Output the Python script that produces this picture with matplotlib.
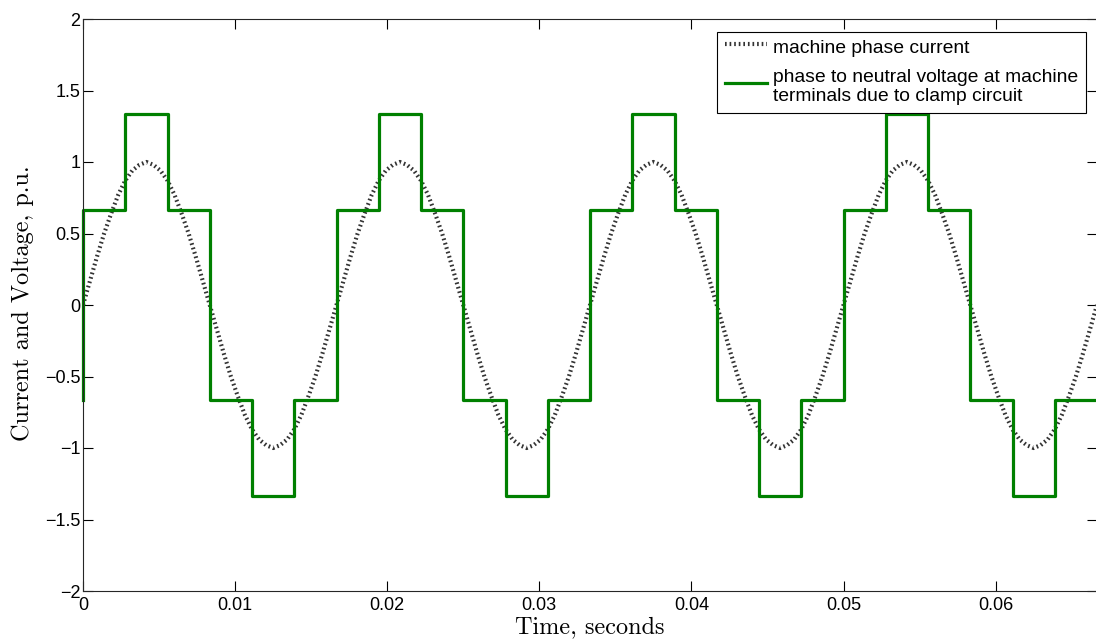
import numpy as np
import matplotlib
matplotlib.use("Agg")
import matplotlib.pyplot as plt

# one cycle of the machine phase current, 36 samples per cycle (p.u.)
current_cycle = [0.00, 0.17, 0.34, 0.50, 0.64, 0.77, 0.87, 0.94, 0.98,
                 1.00, 0.98, 0.94, 0.87, 0.77, 0.64, 0.50, 0.34, 0.17,
                 0.00, -0.17, -0.34, -0.50, -0.64, -0.77, -0.87, -0.94, -0.98,
                 -1.00, -0.98, -0.94, -0.87, -0.77, -0.64, -0.50, -0.34, -0.17]

# six-step phase to neutral voltage: switching instants (fraction of a cycle) and levels
step_frac = [0.0, 1/6, 2/6, 3/6, 4/6, 5/6]
voltage_cycle = [0.667, 1.333, 0.667, -0.667, -1.333, -0.667]
voltage_start = -0.667

period = 1 / 60.0
n_cycles = 4

xticks = [0, 0.01, 0.02, 0.03, 0.04, 0.05, 0.06]
xtick_labels = ['0', '0.01', '0.02', '0.03', '0.04', '0.05', '0.06']
yticks = [-2, -1.5, -1, -0.5, 0, 0.5, 1, 1.5, 2]
ytick_labels = ['\u22122', '\u22121.5', '\u22121', '\u22120.5', '0', '0.5', '1', '1.5', '2']

# build the series
current = np.append(np.tile(current_cycle, n_cycles), current_cycle[0])
t_current = np.linspace(0, n_cycles * period, len(current))

t_volt = [0.0]
volt = [voltage_start]
for c in range(n_cycles):
    for f, v in zip(step_frac, voltage_cycle):
        t_volt.append((c + f) * period)
        volt.append(v)
t_volt.append(n_cycles * period)
volt.append(voltage_cycle[-1])

plt.rcParams['font.family'] = ['Liberation Sans', 'DejaVu Sans']

fig = plt.figure(figsize=(10.96, 6.43), dpi=100)
ax = fig.add_axes([83 / 1096, 52 / 643, 1014 / 1096, 572 / 643])

ax.plot(t_current, current, color='0.2', lw=3.0, linestyle=(0, (0.4, 0.7)),
        dash_capstyle='butt', label='machine phase current')
ax.plot(t_volt, volt, color='#008000', lw=2.3, drawstyle='steps-post', clip_on=False,
        label='phase to neutral voltage at machine\nterminals due to clamp circuit')

ax.set_xlim(0, n_cycles * period)
ax.set_ylim(-2, 2)
ax.set_xticks(xticks)
ax.set_xticklabels(xtick_labels)
ax.set_yticks(yticks)
ax.set_yticklabels(ytick_labels)
ax.tick_params(direction='in', length=7, width=0.8, top=True, right=True,
               labelsize=13, colors='black')
ax.tick_params(axis='x', pad=4)
ax.tick_params(axis='y', pad=2)
for s in ax.spines.values():
    s.set_linewidth(0.8)
    s.set_color('0.15')

fig.text(23 / 1096, 1 - 303 / 643, 'Current and Voltage, p.u.', rotation=90,
         ha='center', va='center', family='cmr10', fontsize=17.5)
fig.text(590 / 1096, 10 / 643, 'Time, seconds', ha='center', va='baseline',
         family='cmr10', fontsize=17.5)

leg = ax.legend(loc='upper right', bbox_to_anchor=(1086 / 1096, 1 - 32 / 643),
                bbox_transform=fig.transFigure, borderaxespad=0, fontsize=13.9,
                frameon=True, fancybox=False, framealpha=1, handlelength=2.2,
                handletextpad=0.3, labelspacing=0.6, borderpad=0.4)
leg.get_frame().set_edgecolor('black')
leg.get_frame().set_linewidth(0.8)
# handles sit a bit high, the green one level with the first line of its label
dots, green = leg.legend_handles
dots.set_ydata(np.asarray(dots.get_ydata()) + 2)
green.set_ydata(np.asarray(green.get_ydata()) + 3)

fig.savefig('out.png', dpi=100)
